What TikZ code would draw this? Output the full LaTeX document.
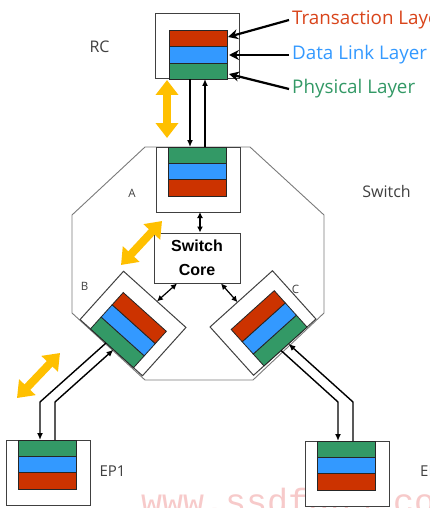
\documentclass[tikz,border=0pt]{standalone}
\usepackage{fontspec}
\setmainfont{Open Sans}
\newfontfamily\coresans{Liberation Sans}
\newfontfamily\wmfont{Liberation Mono}
\usetikzlibrary{arrows.meta}
\definecolor{lred}{HTML}{CC3300}
\definecolor{lblue}{HTML}{3399FF}
\definecolor{lgreen}{HTML}{339966}
\definecolor{ygold}{HTML}{FFC000}
\definecolor{txtred}{HTML}{D9441A}
\definecolor{txtblue}{HTML}{3399FF}
\definecolor{txtgreen}{HTML}{339966}
\definecolor{labgray}{HTML}{404040}
\definecolor{boxgray}{HTML}{404040}
\definecolor{octgray}{HTML}{7A7A7A}
\definecolor{wmpink}{HTML}{F7CACA}
\tikzset{
  boxline/.style={draw=boxgray, line width=1pt},
  barline/.style={draw=black!85, line width=0.8pt},
  link/.style={draw=black, line width=1.4pt},
  tipk/.style={-{Latex[length=7pt,width=6pt]}},
  coretip/.style={{Latex[length=6pt,width=6pt]}-{Latex[length=6pt,width=6pt]}, draw=black, line width=1.2pt},
  yarrow/.style={draw=ygold, line width=8pt,
    {Triangle[length=15pt,width=22pt]}-{Triangle[length=15pt,width=22pt]}},
  layerlab/.style={anchor=west, inner sep=1pt, font=\fontsize{18.8}{20}\selectfont},
  layarrow/.style={draw=black, line width=2.2pt, -{Stealth[length=10pt,width=10pt]}},
  lab/.style={text=labgray, inner sep=0pt, font=\fontsize{16}{18}\selectfont},
  smalllab/.style={text=labgray, inner sep=0pt, font=\fontsize{11.5}{12}\selectfont},
  corebox/.style={draw=boxgray, line width=1pt, fill=white, minimum width=86pt,
    minimum height=50pt, align=center, inner sep=0pt,
    font=\coresans\bfseries\fontsize{16}{24}\selectfont},
}
\newcommand{\layerport}[7]{%
  \begin{scope}[shift={(#2,#3)}, rotate=#4]
    \draw[boxline, fill=white] (-42,-32.5) rectangle (42,32.5);
    \draw[barline, fill=lgreen] (-30,-32.5) rectangle (28,-16.5);
    \draw[barline, fill=lblue] (-30,-16.5) rectangle (28,0);
    \draw[barline, fill=lred] (-30,0) rectangle (28,16.5);
    \coordinate (#1-1) at (#5,-32.5);
    \coordinate (#1-2) at (#6,-32.5);
    \coordinate (#1-c) at (#7,32.5);
  \end{scope}}
\begin{document}
\begin{tikzpicture}[x=1pt,y=-1pt]
\useasboundingbox (0,0) rectangle (430,508);
\fill[white] (0,0) rectangle (430,508);
% watermark
\node[anchor=base west, inner sep=0pt, text=wmpink, font=\wmfont\fontsize{35}{35}\selectfont] (wm) at (141,513) {www.ssdfans.com};
% switch outline
\draw[octgray, line width=0.9pt] (72,215) -- (145,147) -- (250,147) -- (324,215) -- (324,313) -- (253,380) -- (145,380) -- (72,313) -- cycle;
% ports
\layerport{RC}{197}{46.5}{180}{7}{-8}{0}
\layerport{A}{198}{179.5}{0}{-8}{7}{2}
\layerport{B}{133}{323.5}{138}{7}{-3}{-3}
\layerport{C}{263}{323}{-138}{5}{-5}{5}
\layerport{E1}{48}{472.5}{0}{-8}{7}{0}
\layerport{E2}{347}{473.5}{0}{-9}{6}{0}
% switch core
\node[corebox] (core) at (197,258) {Switch\\Core};
% core links
\draw[coretip] (A-c) -- (A-c |- core.north);
\draw[coretip] ([xshift=-20pt]core.south) -- (B-c);
\draw[coretip] ([xshift=24pt]core.south) -- (C-c);
% RC - A links
\draw[link,tipk] (RC-1) -- (A-1);
\draw[link,tipk] (A-2) -- (RC-2);
% B - EP1 links
\coordinate (b1) at (40,402);
\coordinate (b2) at (55,402);
\draw[link,tipk] (B-1) -- (b1) -- (E1-1);
\draw[link,tipk] (E1-2) -- (b2) -- (B-2);
% C - EP2 links
\coordinate (c1) at (338,402);
\coordinate (c2) at (353,402);
\draw[link,tipk] (C-1) -- (c1) -- (E2-1);
\draw[link,tipk] (E2-2) -- (c2) -- (C-2);
% yellow arrows
\coordinate (y1a) at (167,80);
\coordinate (y1b) at (167,138);
\coordinate (y2a) at (162,221);
\coordinate (y2b) at (121,265);
\coordinate (y3a) at (60,353);
\coordinate (y3b) at (17,398);
\draw[yarrow] (y1a) -- (y1b);
\draw[yarrow] (y2a) -- (y2b);
\draw[yarrow] (y3a) -- (y3b);
% layer labels
\node[layerlab, text=txtred] (TL) at (291,20) {Transaction Layer};
\node[layerlab, text=txtblue] (DL) at (291,55) {Data Link Layer};
\node[layerlab, text=txtgreen] (PL) at (291,89) {Physical Layer};
\coordinate (RCt) at (228,37);
\coordinate (RCd) at (229,55);
\coordinate (RCp) at (229,74);
\draw[layarrow] ([xshift=-2pt]TL.west) -- (RCt);
\draw[layarrow] ([xshift=-2pt]DL.west) -- (RCd);
\draw[layarrow] ([xshift=-2pt]PL.west) -- (RCp);
% labels
\node[lab] (lrc) at (99.5,47) {RC};
\node[lab] (lsw) at (386.5,191) {Switch};
\node[smalllab] (la) at (132,193) {A};
\node[smalllab] (lb) at (84.5,286) {B};
\node[smalllab] (lc) at (295.5,289) {C};
\node[lab, font=\fontsize{15}{17}\selectfont] (le1) at (112.5,471) {EP1};
\node[lab, anchor=west, font=\fontsize{15}{17}\selectfont] (le2) at (420,471) {EP2};
\end{tikzpicture}
\end{document}
